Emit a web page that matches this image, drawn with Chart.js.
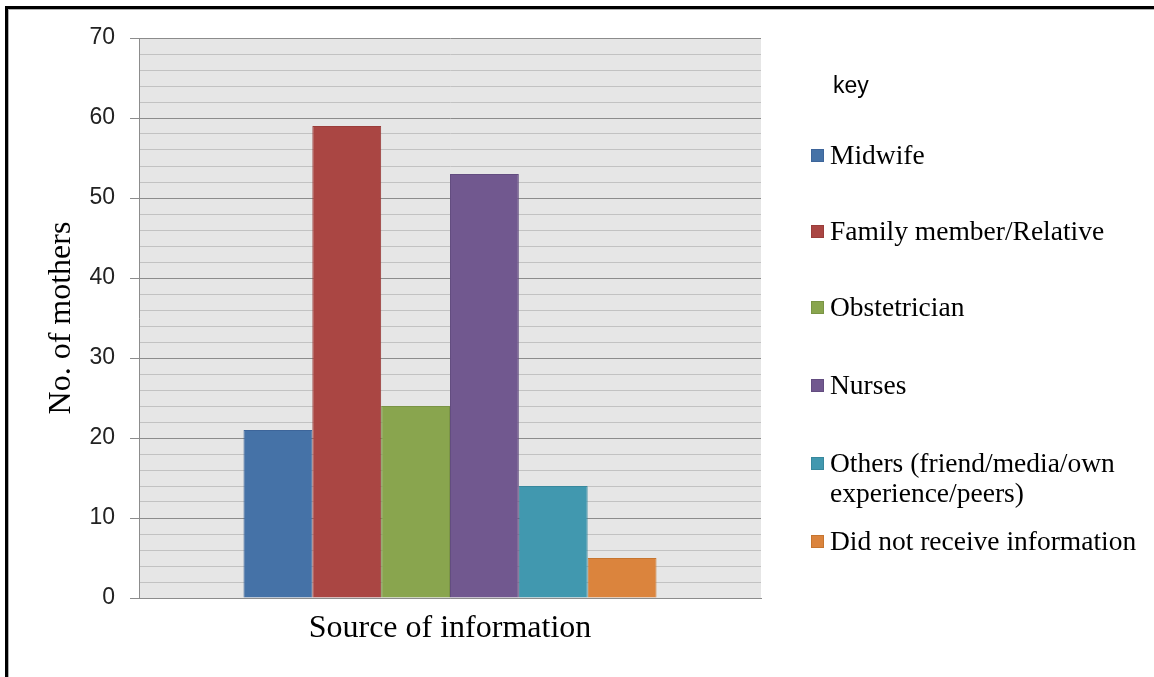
<!DOCTYPE html>
<html>
<head>
<meta charset="utf-8">
<script src="https://cdn.jsdelivr.net/npm/chart.js@4"></script>
<style>
    body { margin: 0; background: #fff; }
    #wrap { position: relative; width: 1154px; height: 677px; overflow: hidden; }
    #frame { position: absolute; left: 5px; top: 6px; right: 0; bottom: 0;
             border-top: 3px solid #000; border-left: 3px solid #000; }
    #frame2 { position: absolute; left: 8px; top: 9px; right: 0; bottom: 0;
              border-top: 1px solid #b0b0b0; border-left: 1px solid #b0b0b0; }
    #legend { position: absolute; left: 811px; top: 0; font-family: "Liberation Serif", serif; font-size: 27.5px; color: #000; }
    #legend .key { position: absolute; left: 22px; top: 72px; font-family: "Liberation Sans", sans-serif; font-size: 23px; white-space: nowrap; }
    #legend .item { position: absolute; left: 0; white-space: nowrap; line-height: 30px; }
    #legend .box { position: absolute; left: 0; top: 9px; width: 13px; height: 13px; box-sizing: border-box; }
    #legend .txt { position: absolute; left: 19px; top: 0; }
</style>
</head>
<body>
<div id="wrap">
    <canvas id="chart" width="1154" height="677"></canvas>
    <div id="frame"></div>
    <div id="frame2"></div>
    <div id="legend"></div>
</div>
<script>
const categories = ["Midwife", "Family member/Relative", "Obstetrician", "Nurses",
    "Others (friend/media/own experience/peers)", "Did not receive information"];
const legendLines = [["Midwife"], ["Family member/Relative"], ["Obstetrician"], ["Nurses"],
    ["Others (friend/media/own", "experience/peers)"], ["Did not receive information"]];
const counts = [21, 59, 24, 53, 14, 5];
const colors = ["#4572a7", "#aa4643", "#89a54e", "#71588f", "#4198af", "#db843d"];
const borders = ["#3d659a", "#9a3d3a", "#7a9445", "#634d80", "#38889d", "#c6752f"];

// legend rows (top of first line)
const legendTops = [140, 216, 292, 370, 448, 526];

const legend = document.getElementById('legend');
legend.innerHTML = '<div class="key">key</div>' + legendLines.map((lines, i) => `
    <div class="item" style="top:${legendTops[i]}px">
        <div class="box" style="background:${colors[i]};border:1px solid ${borders[i]}"></div>
        <div class="txt">${lines.join('<br>')}</div>
    </div>`).join('');

const plotBg = {
    id: 'plotBg',
    beforeDraw(chart) {
        const { ctx, chartArea: a } = chart;
        ctx.save();
        ctx.fillStyle = '#e6e6e6';
        ctx.fillRect(a.left, a.top, a.right - a.left, a.bottom - a.top);
        ctx.restore();
    }
};

new Chart(document.getElementById('chart'), {
    type: 'bar',
    data: {
        labels: [''],
        datasets: categories.map((c, i) => ({
            label: c,
            data: [counts[i]],
            backgroundColor: colors[i],
            borderColor: borders[i],
            borderWidth: 1
        }))
    },
    options: {
        responsive: false,
        animation: false,
        layout: { padding: { left: 0, top: 38, right: 393, bottom: 0 } },
        plugins: { legend: { display: false }, tooltip: { enabled: false } },
        datasets: { bar: { barPercentage: 1, categoryPercentage: 0.664 } },
        scales: {
            x: {
                grid: { display: false },
                border: { color: '#8c8c8c', width: 1 },
                ticks: { display: false },
                title: {
                    display: true, text: 'Source of information', color: '#000',
                    font: { family: 'Liberation Serif', size: 32 },
                    padding: { top: 0, bottom: 29 }
                },
                afterFit(s) { s.height = 79; }
            },
            y: {
                min: 0, max: 70,
                border: { color: '#8c8c8c', width: 1 },
                grid: {
                    color: c => (c.tick && c.tick.value % 10 === 0) ? '#8c8c8c' : '#c2c2c2',
                    tickColor: c => (c.tick && c.tick.value % 10 === 0) ? '#8c8c8c' : 'rgba(0,0,0,0)',
                    tickLength: 9,
                    lineWidth: 1
                },
                ticks: {
                    stepSize: 2, autoSkip: false, padding: 15, color: '#222',
                    font: { family: 'Liberation Sans', size: 23 },
                    callback: v => v % 10 === 0 ? v : ''
                },
                title: {
                    display: true, text: 'No. of mothers', color: '#000',
                    font: { family: 'Liberation Serif', size: 32 },
                    padding: { top: 42, bottom: 0 }
                },
                afterFit(s) { s.width = 139; }
            }
        }
    },
    plugins: [plotBg]
});
</script>
</body>
</html>
